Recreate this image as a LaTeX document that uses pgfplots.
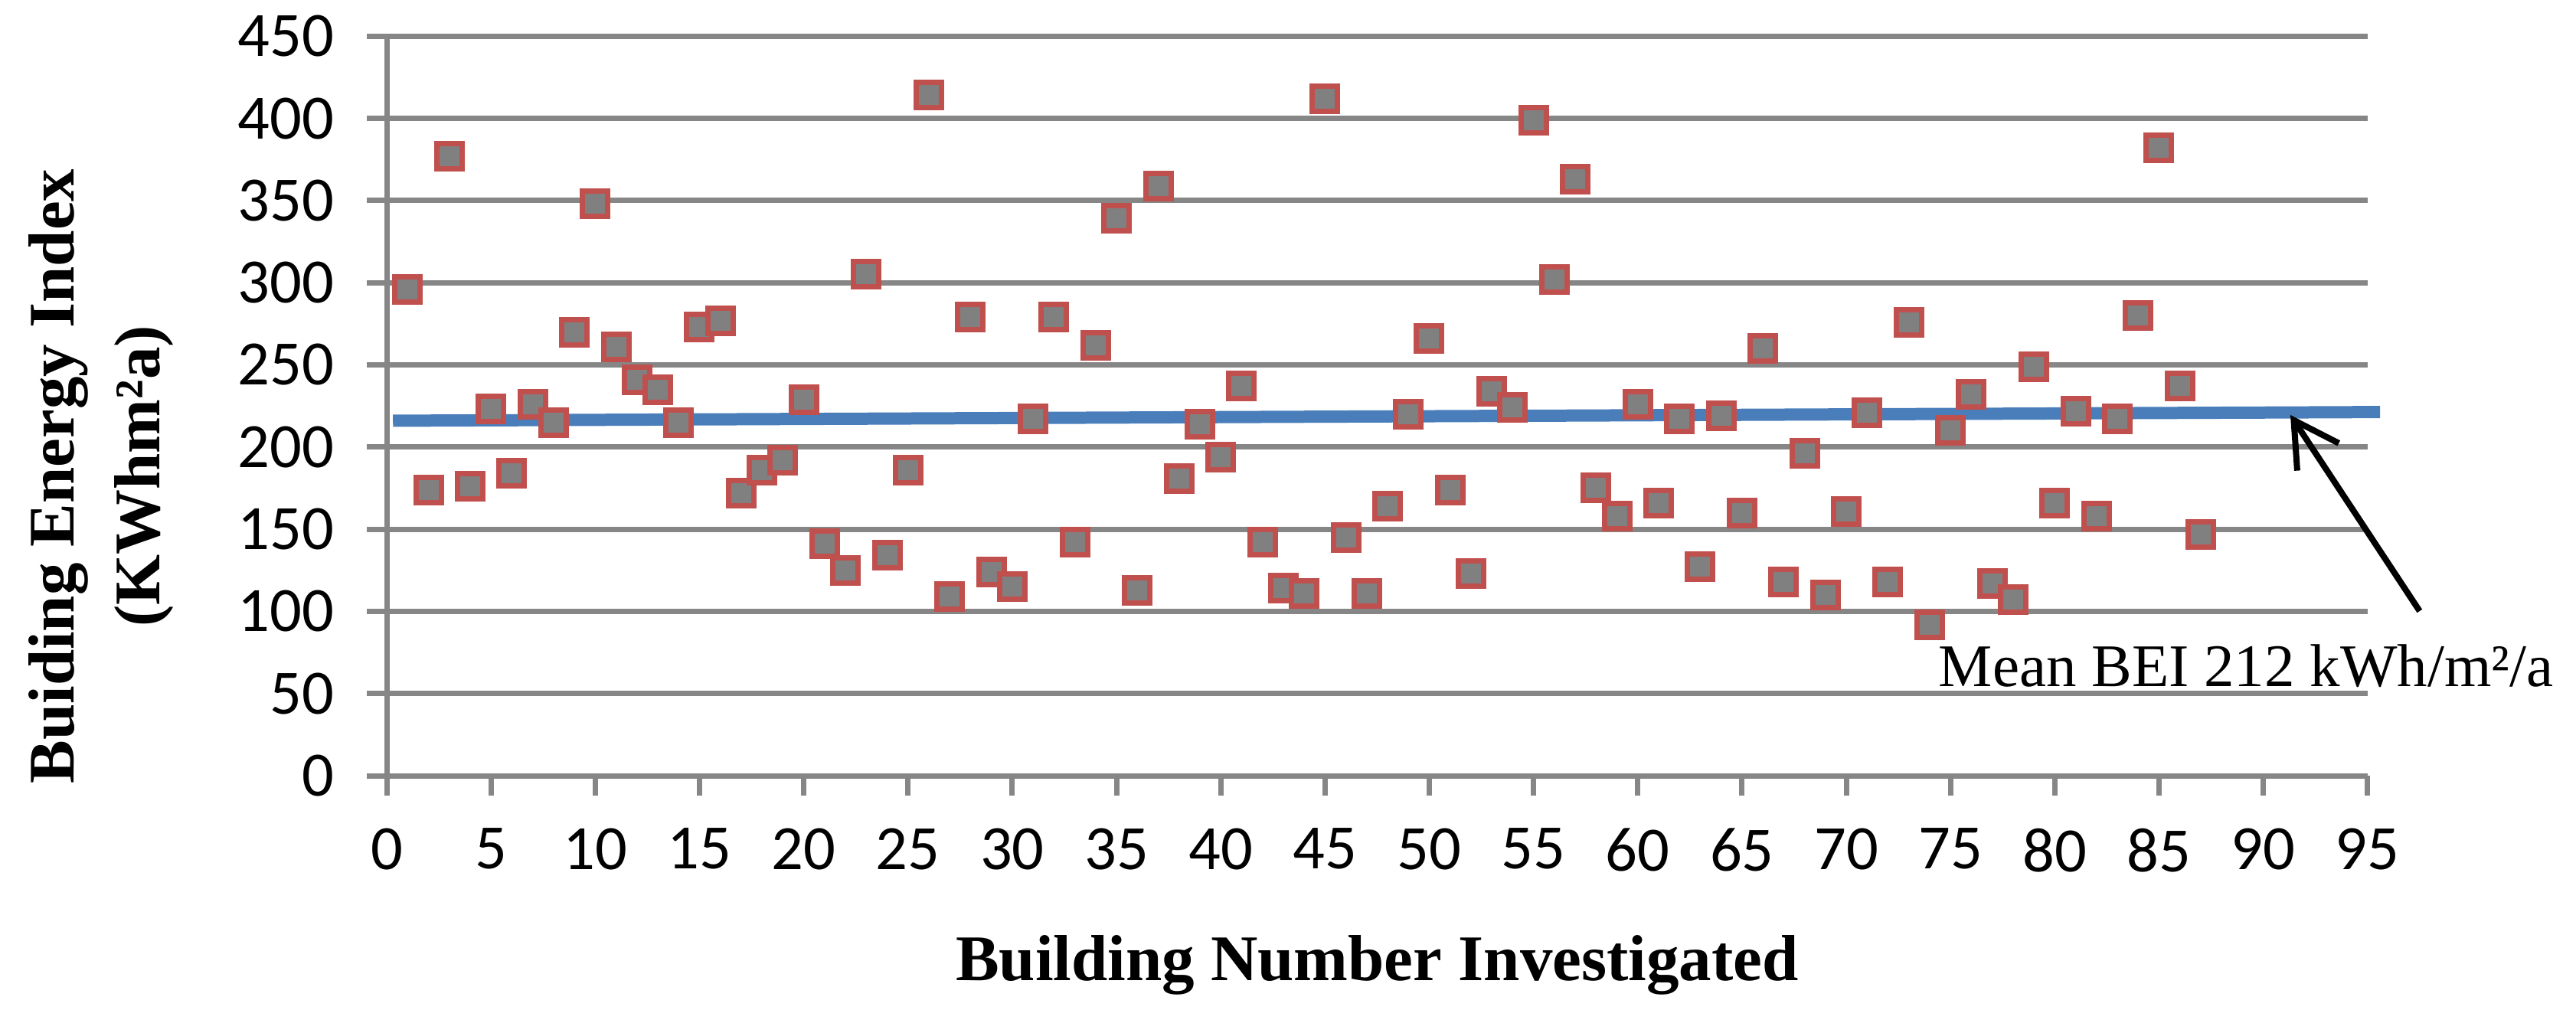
\documentclass[border=0pt]{standalone}
\usepackage{fontspec}
\setmainfont{Liberation Serif}
\newfontfamily\carlito{Carlito}
\usepackage{pgfplots}
\pgfplotsset{compat=1.18}
\usetikzlibrary{arrows.meta}
\definecolor{gridgray}{HTML}{868686}
\definecolor{mkfill}{HTML}{808080}
\definecolor{mkred}{HTML}{C0504D}
\definecolor{meanblue}{HTML}{4A7EBB}
\begin{document}
\begin{tikzpicture}
\begin{axis}[
  scale only axis,
  width=517.4pt, height=193.2pt,
  xmin=0, xmax=95, ymin=0, ymax=450,
  xtick distance=5, ytick distance=50,
  axis x line*=bottom, axis y line*=left,
  axis line style={draw=gridgray, line width=1.4pt, -},
  ymajorgrids, grid style={draw=gridgray, line width=1.4pt},
  tick align=outside,
  major tick length=5.2pt,
  tick style={draw=gridgray, line width=1.4pt},
  /pgf/number format/assume math mode=true,
  ticklabel style={font=\carlito\fontsize{16.5}{18}\selectfont},
  yticklabel style={xshift=-5pt},
  xticklabel style={yshift=-5pt},
  clip=false,
]
\addplot[only marks, mark=square*, mark size=3.3pt,
  mark options={fill=mkfill, draw=mkred, line width=1.4pt}] coordinates {
(1,296) (2,174) (3,377) (4,176) (5,223) (6,184) (7,226) (8,215) (9,270) (10,348)
(11,261) (12,241) (13,235) (14,215) (15,273) (16,277) (17,172) (18,186) (19,192) (20,229)
(21,141) (22,125) (23,305) (24,134) (25,186) (26,414) (27,109) (28,279) (29,124) (30,115)
(31,217) (32,279) (33,142) (34,262) (35,339) (36,113) (37,359) (38,181) (39,214) (40,194)
(41,237) (42,142) (43,114) (44,111) (45,412) (46,145) (47,111) (48,164) (49,220) (50,266)
(51,174) (52,123) (53,234) (54,224) (55,399) (56,302) (57,363) (58,175) (59,158) (60,226)
(61,166) (62,217) (63,127) (64,219) (65,160) (66,260) (67,118) (68,196) (69,110) (70,161)
(71,221) (72,118) (73,276) (74,92) (75,210) (76,232) (77,117) (78,107) (79,249) (80,166)
(81,222) (82,158) (83,217) (84,280) (85,382) (86,237) (87,147)
};
\addplot[meanblue, line width=3.2pt] coordinates {(0.3,216) (95.6,221.3)};
\draw[line width=1.6pt, -{Straight Barb[length=11.5pt,width=13pt,line width=1.6pt]}]
  (axis cs:97.5,100.2) -- (axis cs:91.3,219.5);
\node[anchor=base west, inner sep=0pt, font=\fontsize{15.8}{18}\selectfont]
  at (axis cs:74.4,54.5) {Mean BEI 212 kWh/m²/a};
\node[anchor=base, inner sep=0pt, font=\bfseries\fontsize{17}{20}\selectfont]
  at (axis cs:47.5,-124.4) {Building Number Investigated};
\node[rotate=90, align=center, inner sep=0pt, font=\bfseries\fontsize{17}{22.4}\selectfont]
  at (axis cs:-13.7,182.2) {Buiding Energy Index\\(KWhm²a)};
\coordinate (bbl) at (axis cs:-18.55,-142.1);
\coordinate (btr) at (axis cs:105.0,472.0);
\end{axis}
\path (bbl) rectangle (btr);
\end{tikzpicture}
\end{document}
